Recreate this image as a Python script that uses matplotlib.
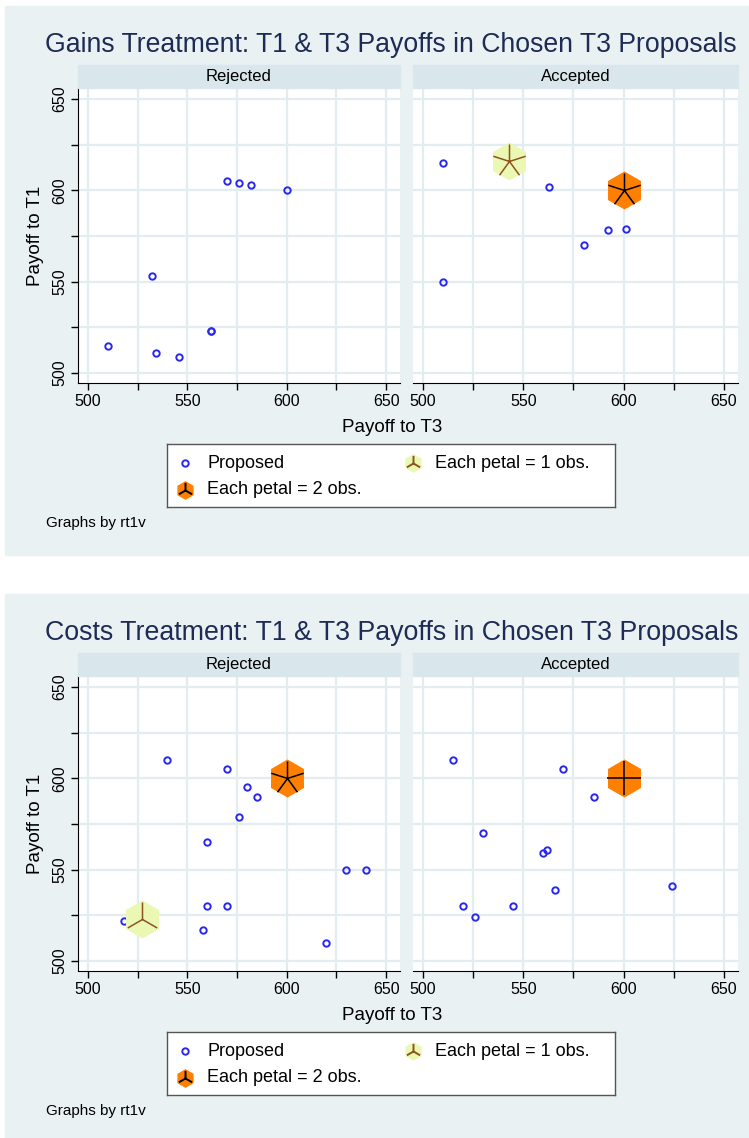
import numpy as np
import matplotlib.pyplot as plt
from matplotlib.path import Path
from matplotlib.patches import Rectangle

W, H = 749, 1138
plt.rcParams['font.family'] = ['Liberation Sans', 'DejaVu Sans']

# ---------------------
# Data
# ---------------------
panel_names = ["Rejected", "Accepted"]

# Gains treatment (562/523 appears twice: bolder circle)
gains_rej_t3 = [510, 532, 534, 546, 562, 562, 570, 576, 582, 600]
gains_rej_t1 = [515, 553, 511, 509, 523, 523, 605, 604, 603, 600]
gains_acc_t3 = [510, 510, 563, 580, 592, 601]
gains_acc_t1 = [615, 550, 602, 570, 578, 579]
gains_rej_sun_t3, gains_rej_sun_t1, gains_rej_sun_petals, gains_rej_sun_kind = [], [], [], []
gains_acc_sun_t3 = [543, 600]
gains_acc_sun_t1 = [616, 600]
gains_acc_sun_petals = [5, 5]
gains_acc_sun_kind = ["light", "dark"]

# Costs treatment
costs_rej_t3 = [540, 570, 580, 585, 576, 560, 630, 640, 560, 570, 558, 620, 518]
costs_rej_t1 = [610, 605, 595, 590, 579, 565, 550, 550, 530, 530, 517, 510, 522]
costs_acc_t3 = [515, 570, 585, 530, 560, 562, 566, 624, 520, 526, 545]
costs_acc_t1 = [610, 605, 590, 570, 559, 561, 539, 541, 530, 524, 530]
costs_rej_sun_t3 = [527, 600]
costs_rej_sun_t1 = [523, 600]
costs_rej_sun_petals = [3, 5]
costs_rej_sun_kind = ["light", "dark"]
costs_acc_sun_t3 = [600]
costs_acc_sun_t1 = [600]
costs_acc_sun_petals = [4]
costs_acc_sun_kind = ["dark"]

x_ticks = [500, 525, 550, 575, 600, 625, 650]
x_labels = ["500", "", "550", "", "600", "", "650"]

# ---------------------
# Styles
# ---------------------
BG = "#EAF1F3"
STRIP = "#D9E6EB"
GRID = "#E3ECEF"
TITLE_C = "#1E2C55"
PT_C = "#2828F0"
SUN = {"light": ("#EAF8B4", "#8E5420"), "dark": ("#FF8000", "#000000")}


def box(x0, y0, x1, y1):
    return [x0 / W, 1 - y1 / H, (x1 - x0) / W, (y1 - y0) / H]


def petal_path(n):
    verts, codes = [], []
    for k in range(n):
        a = np.pi / 2 + 2 * np.pi * k / n
        verts += [(0, 0), (np.cos(a), np.sin(a))]
        codes += [Path.MOVETO, Path.LINETO]
    return Path(verts, codes)


def sunflower(ax, x, y, n, kind, hex_ms=27.4, pet_ms=24.5, lw=1.1):
    fc, pc = SUN[kind]
    ax.plot([x], [y], marker="h", ms=hex_ms, mfc=fc, mec="none", ls="none", zorder=3)
    ax.plot([x], [y], marker=petal_path(n), ms=pet_ms, mfc="none", mec=pc,
            mew=lw, ls="none", zorder=4)


def fit_text(fig, txt, width_px):
    # shrink the font until the text spans the width seen in the reference
    fig.canvas.draw()
    w = txt.get_window_extent(fig.canvas.get_renderer()).width
    txt.set_fontsize(txt.get_fontsize() * width_px / w)


def draw_chart(fig, dy, title, panels):
    fig.add_artist(Rectangle((5 / W, 1 - (dy + 555) / H), 744 / W, 549 / H,
                             transform=fig.transFigure, color=BG, zorder=0))
    t = fig.text(45 / W, 1 - (dy + 52) / H, title, fontsize=20, color=TITLE_C,
                 ha="left", va="baseline")
    fit_text(fig, t, 693)

    extents = [(78, 400), (413, 738)]
    for i, (name, pts, sun) in enumerate(panels):
        x0, x1 = extents[i]
        # strip
        fig.add_artist(Rectangle((x0 / W, 1 - (dy + 88) / H), (x1 - x0) / W, 23 / H,
                                 transform=fig.transFigure, color=STRIP, zorder=1))
        fig.text((x0 + x1) / 2 / W, 1 - (dy + 76.5) / H, name, fontsize=12,
                 ha="center", va="center")

        ax = fig.add_axes(box(x0, dy + 88, x1, dy + 383))
        ax.set_xlim(495, 657)
        ax.set_ylim(494.5, 656)
        ax.set_xticks(x_ticks)
        ax.set_xticklabels(x_labels)
        ax.set_yticks(x_ticks)
        ax.grid(True, color=GRID, lw=1.6)
        ax.set_axisbelow(True)
        for s in ["top", "right"]:
            ax.spines[s].set_visible(False)
        ax.tick_params(axis="x", length=5, width=1, labelsize=11.5, pad=3)
        if i == 0:
            ax.set_yticklabels(x_labels, rotation=90, va="center")
            ax.tick_params(axis="y", length=5, width=1, labelsize=11.5, pad=3)
        else:
            ax.spines["left"].set_visible(False)
            ax.tick_params(axis="y", length=0, labelleft=False)

        t3, t1 = pts
        ax.plot(t3, t1, "o", ms=4.6, mfc="none", mec=PT_C, mew=1.4, zorder=2)
        for sx, sy, n, kind in zip(*sun):
            sunflower(ax, sx, sy, n, kind)

    fig.text(35 / W, 1 - (dy + 236) / H, "Payoff to T1", fontsize=13.5,
             rotation=90, ha="center", va="center")
    fig.text(392 / W, 1 - (dy + 427) / H, "Payoff to T3", fontsize=13.5,
             ha="center", va="center")

    # legend
    lg = fig.add_axes(box(167, dy + 444, 615, dy + 507))
    lg.set_xlim(167, 615)
    lg.set_ylim(dy + 507, dy + 444)
    lg.set_xticks([])
    lg.set_yticks([])
    for s in lg.spines.values():
        s.set_color("#555555")
        s.set_linewidth(1.0)
    lg.plot([185], [dy + 463], "o", ms=4.6, mfc="none", mec=PT_C, mew=1.4)
    lg.text(207, dy + 463, "Proposed", fontsize=13, va="center")
    sunflower(lg, 413, dy + 463, 3, "light", hex_ms=13.5, pet_ms=11, lw=1.4)
    lg.text(435, dy + 463, "Each petal = 1 obs.", fontsize=13, va="center")
    sunflower(lg, 185, dy + 490, 3, "dark", hex_ms=13.5, pet_ms=11, lw=1.4)
    lg.text(207, dy + 490, "Each petal = 2 obs.", fontsize=13, va="center")

    fig.text(46 / W, 1 - (dy + 523) / H, "Graphs by rt1v", fontsize=11,
             ha="left", va="center")


fig = plt.figure(figsize=(W / 100, H / 100), dpi=100)
fig.patch.set_facecolor("white")

draw_chart(fig, 0, "Gains Treatment: T1 & T3 Payoffs in Chosen T3 Proposals", [
    (panel_names[0], (gains_rej_t3, gains_rej_t1),
     (gains_rej_sun_t3, gains_rej_sun_t1, gains_rej_sun_petals, gains_rej_sun_kind)),
    (panel_names[1], (gains_acc_t3, gains_acc_t1),
     (gains_acc_sun_t3, gains_acc_sun_t1, gains_acc_sun_petals, gains_acc_sun_kind)),
])
draw_chart(fig, 588, "Costs Treatment: T1 & T3 Payoffs in Chosen T3 Proposals", [
    (panel_names[0], (costs_rej_t3, costs_rej_t1),
     (costs_rej_sun_t3, costs_rej_sun_t1, costs_rej_sun_petals, costs_rej_sun_kind)),
    (panel_names[1], (costs_acc_t3, costs_acc_t1),
     (costs_acc_sun_t3, costs_acc_sun_t1, costs_acc_sun_petals, costs_acc_sun_kind)),
])

fig.savefig("out.png", dpi=100)
